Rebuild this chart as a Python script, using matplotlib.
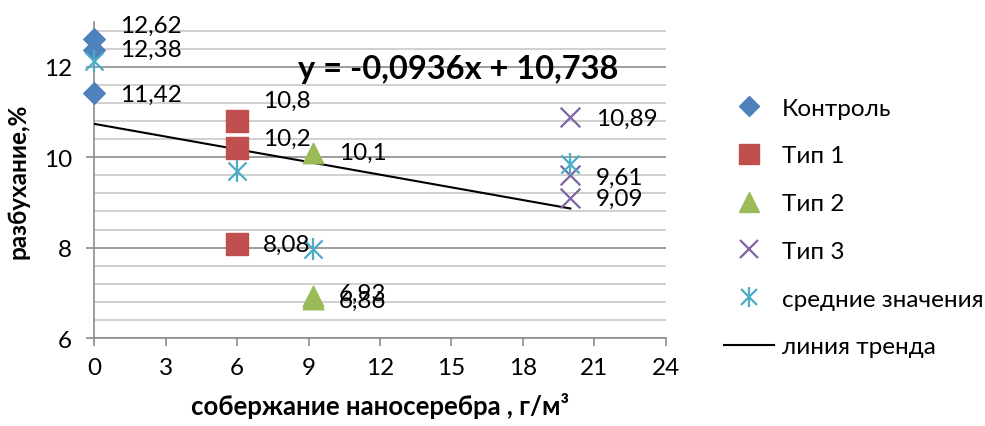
import matplotlib
matplotlib.use("Agg")
import matplotlib.pyplot as plt
from matplotlib.ticker import MultipleLocator
from matplotlib.lines import Line2D

plt.rcParams['font.family'] = ['Lato', 'DejaVu Sans']

# Data
x_control = [0, 0, 0]
y_control = [12.62, 12.38, 11.42]
x_type1 = [6, 6, 6]
y_type1 = [10.8, 10.2, 8.08]
x_type2 = [9.2, 9.2, 9.2]
y_type2 = [10.1, 6.93, 6.86]
x_type3 = [20, 20, 20]
y_type3 = [10.89, 9.61, 9.09]
x_mean = [0, 6, 9.2, 20]
y_mean = [12.14, 9.69, 7.96, 9.86]
trend_slope = -0.0936
trend_intercept = 10.738
trend_x = [0, 20]

labels_control = ["12,62", "12,38", "11,42"]
labels_type1 = ["10,8", "10,2", "8,08"]
labels_type2 = ["10,1", "6,93", "6,86"]
labels_type3 = ["10,89", "9,61", "9,09"]

series_names = ["Контроль", "Тип 1", "Тип 2", "Тип 3", "средние значения", "линия тренда"]
xticks = [0, 3, 6, 9, 12, 15, 18, 21, 24]
yticks = [6, 8, 10, 12]

c_blue = "#4F81BD"
c_red = "#C0504D"
c_green = "#9BBB59"
c_purple = "#8064A2"
c_cyan = "#4BACC6"

fig = plt.figure(figsize=(9.85, 4.27), dpi=100)
ax = fig.add_axes([0.0957, 0.206, 0.58, 0.741])

ax.set_xlim(0, 24)
ax.set_ylim(6, 13)
ax.set_xticks(xticks)
ax.set_yticks(yticks)
ax.yaxis.set_minor_locator(MultipleLocator(0.4))

ax.grid(axis='y', which='major', color='#8c8c8c', linewidth=1.2, zorder=0)
ax.grid(axis='y', which='minor', color='#c8c8c8', linewidth=1.2, zorder=0)
ax.set_axisbelow(True)

for s in ['top', 'right']:
    ax.spines[s].set_visible(False)
for s in ['left', 'bottom']:
    ax.spines[s].set_color('#8c8c8c')
    ax.spines[s].set_linewidth(1.2)

fs = 17.5
ax.tick_params(axis='both', which='major', direction='out', length=6, width=1.2,
               color='#8c8c8c', labelsize=fs, labelcolor='black')
ax.tick_params(axis='y', which='minor', length=0)
ax.tick_params(axis='x', pad=8)
ax.tick_params(axis='y', pad=10)

# trend line
trend_y = [trend_slope * v + trend_intercept for v in trend_x]
ax.plot(trend_x, trend_y, color='black', linewidth=1.5, zorder=3)

ax.scatter(x_control, y_control, marker='D', s=120, color=c_blue, zorder=4, clip_on=False)
ax.scatter(x_type1, y_type1, marker='s', s=230, color=c_red, zorder=4)
ax.scatter(x_type2, y_type2, marker='^', s=220, color=c_green, zorder=4)
ax.scatter(x_type3, y_type3, marker='x', s=200, color=c_purple, linewidths=1.6, zorder=4)
ax.scatter(x_mean, y_mean, marker='x', s=170, color=c_cyan, linewidths=1.6, zorder=5, clip_on=False)
ax.scatter(x_mean, y_mean, marker='|', s=250, color=c_cyan, linewidths=1.6, zorder=5, clip_on=False)

def lab(xs, ys, texts, dys):
    for xv, yv, t, dy in zip(xs, ys, texts, dys):
        ax.annotate(t, (xv, yv), xytext=(18.5, dy), textcoords='offset points',
                    ha='left', va='center', fontsize=fs, zorder=6, annotation_clip=False)

lab(x_control, y_control, labels_control, [10, 0, -1])
lab(x_type1, y_type1, labels_type1, [15, 7, 0])
lab(x_type2, y_type2, labels_type2, [0, 2, -1])
lab(x_type3, y_type3, labels_type3, [-1, -2, 0])

ax.text(0.356, 0.852, "y = -0,0936x + 10,738", transform=ax.transAxes,
        fontsize=23.5, fontweight='bold', ha='left', va='center', zorder=6)

ax.set_ylabel("разбухание,%", fontsize=17.5, fontweight='bold', labelpad=10)
ax.set_xlabel("собержание наносеребра , г/м³", fontsize=18.5, fontweight='bold', labelpad=10)

handles = [
    Line2D([], [], linestyle='none', marker='D', markersize=10, color=c_blue),
    Line2D([], [], linestyle='none', marker='s', markersize=14, color=c_red),
    Line2D([], [], linestyle='none', marker='^', markersize=14, color=c_green),
    Line2D([], [], linestyle='none', marker='x', markersize=13, markeredgewidth=1.6, color=c_purple),
    (Line2D([], [], linestyle='none', marker='x', markersize=12, markeredgewidth=1.6, color=c_cyan),
     Line2D([], [], linestyle='none', marker='|', markersize=15, markeredgewidth=1.6, color=c_cyan)),
    Line2D([], [], color='black', linewidth=1.5),
]
fig.legend(handles, series_names, loc='upper left', bbox_to_anchor=(0.735, 0.769),
           frameon=False, fontsize=fs, handlelength=2.06, handletextpad=0.33,
           labelspacing=1.1, borderaxespad=0, borderpad=0)

fig.savefig("out.png", dpi=100)
